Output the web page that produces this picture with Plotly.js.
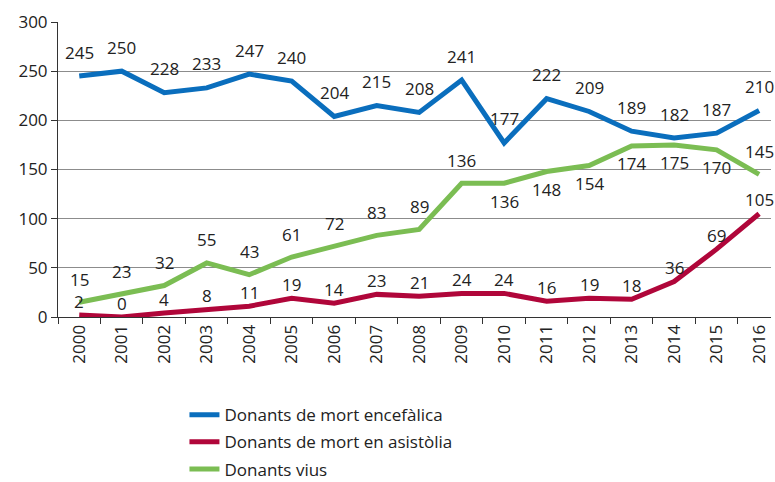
<!DOCTYPE html>
<html>
<head>
<meta charset="utf-8">
<script src="https://cdn.plot.ly/plotly-3.0.1.min.js"></script>
<style>html,body{margin:0;padding:0;background:#fff;}#chart{width:775px;height:482px;}</style>
</head>
<body>
<div id="chart"></div>
<script>
const years = ["2000","2001","2002","2003","2004","2005","2006","2007","2008","2009","2010","2011","2012","2013","2014","2015","2016"];
const encefalica = [245,250,228,233,247,240,204,215,208,241,177,222,209,189,182,187,210];
const asistolia = [2,0,4,8,11,19,14,23,21,24,24,16,19,18,36,69,105];
const vius = [15,23,32,55,43,61,72,83,89,136,136,148,154,174,175,170,145];
const seriesNames = ["Donants de mort encefàlica","Donants de mort en asistòlia","Donants vius"];
const yTicks = [0,50,100,150,200,250,300];

// label placement (style, not data)
const viusBelow = [false,false,false,false,false,false,false,false,false,false,true,true,true,true,true,true,false];

const colors = ["#0A6EBD","#B0063A","#7BBD53"];
const FONT = "Open Sans, Noto Sans, sans-serif";
const FS = 17;

const seriesData = [encefalica, asistolia, vius];
const traces = seriesData.map((vals, i) => ({
  type: "scatter", mode: "lines", x: years, y: vals, name: seriesNames[i],
  line: {color: colors[i], width: 5}, cliponaxis: false,
  legendgroup: "g" + i, hoverinfo: "skip"
}));

const annotations = [];
const shifts = [24, 14, 23];
seriesData.forEach((vals, i) => {
  vals.forEach((v, j) => {
    let ys = shifts[i];
    if (i === 2 && viusBelow[j]) ys = -18;
    annotations.push({
      x: years.indexOf(years[j]), y: v, xref: "x", yref: "y", text: String(v), showarrow: false,
      yshift: ys, font: {family: FONT, size: FS, color: "#222"}
    });
  });
});

const layout = {
  width: 775, height: 482,
  margin: {l: 58, r: 4, t: 22, b: 165, autoexpand: false},
  paper_bgcolor: "#fff", plot_bgcolor: "#fff",
  font: {family: FONT, size: FS, color: "#222"},
  showlegend: true,
  legend: {
    orientation: "v", xref: "container", yref: "container",
    x: 0.238, y: 0.176, xanchor: "left", yanchor: "top",
    font: {family: FONT, size: FS, color: "#222"},
    tracegroupgap: 2, traceorder: "grouped", bgcolor: "rgba(0,0,0,0)"
  },
  xaxis: {
    type: "category", tickvals: years, ticktext: years,
    range: [-0.5, 16.28], tickangle: -90, tickson: "boundaries",
    ticks: "outside", ticklen: 6, tickcolor: "#333",
    showline: true, linecolor: "#333", linewidth: 1, automargin: false,
    showgrid: false, tickfont: {family: FONT, size: FS, color: "#222"}
  },
  yaxis: {
    range: [0, 300], tickvals: yTicks, automargin: false,
    ticks: "outside", ticklen: 6, tickcolor: "#333",
    showline: true, linecolor: "#333", linewidth: 1,
    showgrid: true, gridcolor: "#8c8c8c", gridwidth: 1, zeroline: false,
    tickfont: {family: FONT, size: FS, color: "#222"}
  },
  annotations: annotations
};

Plotly.newPlot("chart", traces, layout, {staticPlot: true, displayModeBar: false});
</script>
</body>
</html>
